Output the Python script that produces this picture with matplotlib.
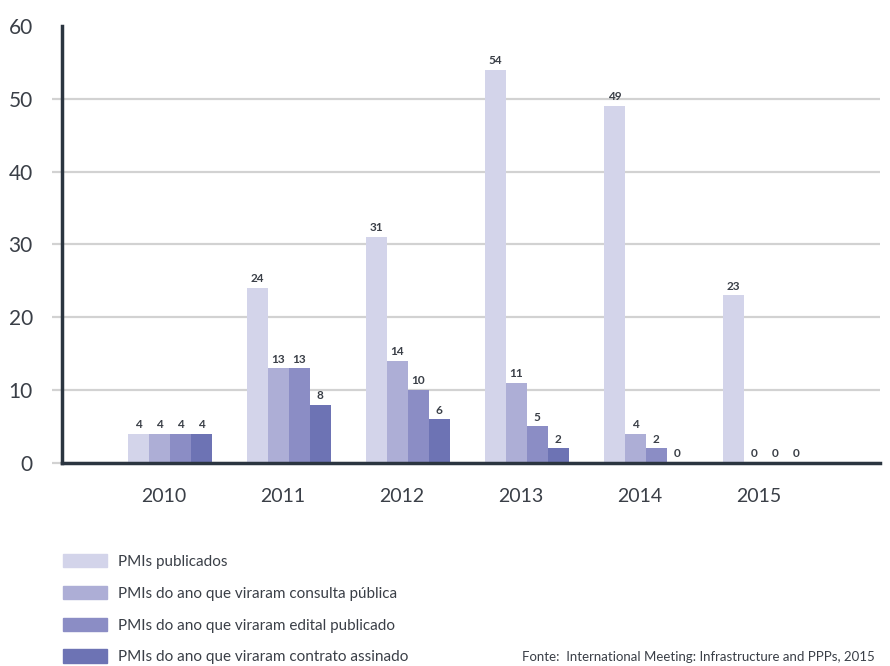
import numpy as np
import matplotlib.pyplot as plt
from matplotlib.patches import Patch

years = ['2010', '2011', '2012', '2013', '2014', '2015']
publicados = [4, 24, 31, 54, 49, 23]
consulta = [4, 13, 14, 11, 4, 0]
edital = [4, 13, 10, 5, 2, 0]
contrato = [4, 8, 6, 2, 0, 0]

series = [publicados, consulta, edital, contrato]
labels = ['PMIs publicados',
          'PMIs do ano que viraram consulta pública',
          'PMIs do ano que viraram edital publicado',
          'PMIs do ano que viraram contrato assinado']
colors = ['#d3d4ea', '#adaed6', '#8b8dc5', '#6d73b4']

plt.rcParams['font.family'] = ['Lato', 'DejaVu Sans']
txt = '#3a3f47'

fig = plt.figure(figsize=(8.9, 6.66), dpi=100)
ax = fig.add_axes([0.0697, 0.305, 0.919, 0.656])

w = 0.176
x = np.arange(len(years))
for j, (vals, c) in enumerate(zip(series, colors)):
    xs = x + j * w
    ax.bar(xs, vals, width=w, align='edge', color=c, zorder=3, linewidth=0)
    for xi, v in zip(xs, vals):
        ax.text(xi + w / 2, v + 0.5, str(v), ha='center', va='bottom',
                fontsize=8.5, fontweight='bold', color=txt, zorder=4)

ax.set_ylim(0, 60)
ax.set_xlim(-0.555, 6.32)
ax.set_yticks(range(0, 61, 10))
ax.set_xticks(x + 1.7 * w)
ax.set_xticklabels(years)
ax.grid(axis='y', color='#d2d2d2', linewidth=1.6, zorder=0)
# no grid line at the top value
ax.get_ygridlines()[-1].set_visible(False)
ax.tick_params(axis='y', length=7, color='#d2d2d2', width=1.6, labelsize=15,
               labelcolor=txt, pad=14)
ax.yaxis.get_major_ticks()[-1].tick1line.set_visible(False)
ax.tick_params(axis='x', length=0, labelsize=14, labelcolor=txt, pad=18)
for s in ['top', 'right']:
    ax.spines[s].set_visible(False)
ax.spines['left'].set_color('#2b3540')
ax.spines['left'].set_linewidth(2.5)
ax.spines['bottom'].set_color('#2b3540')
ax.spines['bottom'].set_linewidth(2.5)
ax.spines['bottom'].set_zorder(5)

handles = [Patch(color=c, label=l) for c, l in zip(colors, labels)]
fig.legend(handles=handles, loc='upper left', bbox_to_anchor=(0.062, 0.18),
           frameon=False, fontsize=11, handlelength=2.9, handleheight=1.0,
           labelspacing=1.1, handletextpad=0.7, borderpad=0, labelcolor=txt)

fig.text(0.587, 0.004, 'Fonte:  International Meeting: Infrastructure and PPPs, 2015',
         fontsize=9.5, color=txt, ha='left', va='bottom')

fig.savefig('out.png', dpi=100)
